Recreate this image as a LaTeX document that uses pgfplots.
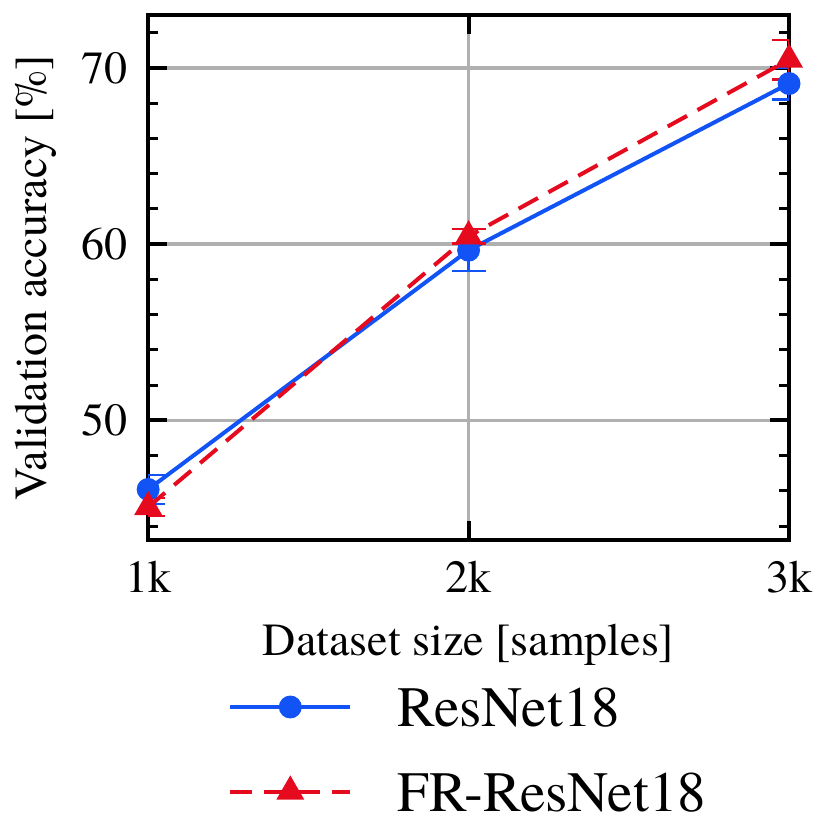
\documentclass[border=0pt]{standalone}
\usepackage{fontspec}
\setmainfont{texgyretermes}[Extension=.otf,UprightFont=*-regular,BoldFont=*-bold,ItalicFont=*-italic,BoldItalicFont=*-bolditalic]
\usepackage{pgfplots}
\pgfplotsset{compat=1.18}
\definecolor{myblue}{HTML}{1153F5}
\definecolor{myred}{HTML}{E50A1E}
\begin{document}
\begin{tikzpicture}
\useasboundingbox (-32.2pt,-63.0pt) rectangle (148.2pt,117.4pt);
\begin{axis}[
  at={(0,0)}, anchor=south west,
  scale only axis, width=139.3pt, height=114.1pt,
  xmin=1, xmax=3, ymin=43.2, ymax=73.0,
  xtick={1,2,3}, xticklabels={1k,2k,3k},
  ytick={50,60,70}, minor ytick={44,46,48,52,54,56,58,62,64,66,68,72},
  /pgf/number format/assume math mode=true,
  tick align=inside, major tick length=4.1pt, minor tick length=2.1pt,
  every tick/.style={black, line width=0.85pt},
  minor tick style={line width=0.65pt},
  grid=major, major grid style={color=black!31, line width=0.75pt},
  axis line style={line width=0.87pt},
  xticklabel style={inner sep=0pt, anchor=north, yshift=-4.35pt},
  yticklabel style={inner sep=0pt, anchor=east, xshift=-4.35pt},
  xlabel={Dataset size [samples]},
  ylabel={Validation accuracy [\%]},
  xlabel style={at={(axis description cs:0.5,-0.219)}, anchor=base, inner sep=0pt},
  ylabel style={at={(axis description cs:-0.158,0.5)}, anchor=base, inner sep=0pt},
  legend image code/.code={\draw[mark repeat=2,mark phase=2,yshift=0.85pt,#1] plot coordinates {(0pt,0pt) (13.05pt,0pt) (26.1pt,0pt)};},
  legend cell align=left,
  legend style={draw=none, fill=none, font=\fontsize{12.4}{14.5}\selectfont,
    inner sep=0pt, outer sep=0pt,
    at={(axis description cs:0.125,-0.282)}, anchor=north west,
    nodes={inner sep=0pt}, row sep=8.5pt, column sep=9.8pt},
  error bars/error bar style={line width=0.55pt, solid},
  error bars/error mark options={rotate=90, line width=0.55pt, mark size=3.7pt, solid},
]
\addplot[color=myblue, line width=0.87pt, mark=*, mark size=2.05pt,
  error bars/.cd, y dir=both, y explicit]
  coordinates {(1,46.08) +- (0,0.83) (2,59.66) +- (0,1.19) (3,69.12) +- (0,0.9)};
\addlegendentry{ResNet18}
\addplot[color=myred, line width=0.87pt, dash pattern=on 4.8pt off 2.6pt,
  mark=triangle*, mark size=2.65pt, mark options={solid},
  error bars/.cd, y dir=both, y explicit]
  coordinates {(1,45.08) +- (0,0.5) (2,60.45) +- (0,0.42) (3,70.48) +- (0,1.12)};
\addlegendentry{FR-ResNet18}
\end{axis}
\end{tikzpicture}
\end{document}
